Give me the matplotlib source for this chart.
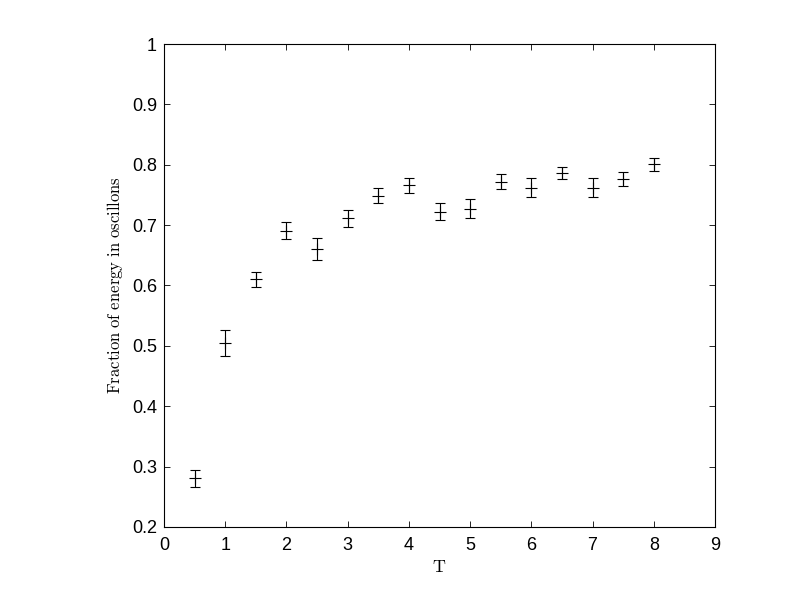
import matplotlib
matplotlib.use("Agg")
import matplotlib.pyplot as plt

# data
T = [0.5, 1.0, 1.5, 2.0, 2.5, 3.0, 3.5, 4.0, 4.5, 5.0, 5.5, 6.0, 6.5, 7.0, 7.5, 8.0]
frac = [0.281, 0.505, 0.610, 0.691, 0.660, 0.711, 0.749, 0.766,
        0.722, 0.727, 0.772, 0.762, 0.787, 0.762, 0.776, 0.801]
err = [0.014, 0.021, 0.012, 0.0135, 0.018, 0.014, 0.0124, 0.012,
       0.014, 0.016, 0.012, 0.0155, 0.010, 0.0155, 0.012, 0.011]

xticks = list(range(0, 10))
yticks = [0.2, 0.3, 0.4, 0.5, 0.6, 0.7, 0.8, 0.9, 1.0]
yticklabels = ["0.2", "0.3", "0.4", "0.5", "0.6", "0.7", "0.8", "0.9", "1"]

plt.rcParams["font.family"] = ["Liberation Sans", "DejaVu Sans"]
plt.rcParams["mathtext.fontset"] = "cm"

fig = plt.figure(figsize=(7.89, 5.93), dpi=100)
ax = fig.add_axes([0.2079, 0.1113, 0.6983, 0.8145])

ax.errorbar(T, frac, yerr=err, fmt="+", color="black", ms=8.5, mew=0.8,
            elinewidth=0.8, capsize=3.6, capthick=0.8)

ax.set_xlim(0, 9)
ax.set_ylim(0.2, 1.0)
ax.set_xticks(xticks)
ax.set_yticks(yticks)
ax.set_yticklabels(yticklabels)
ax.tick_params(direction="in", top=True, right=True, length=4, width=0.6,
               labelsize=13)
ax.tick_params(axis="x", pad=7)
ax.tick_params(axis="y", pad=5)
for s in ax.spines.values():
    s.set_linewidth(0.8)

ax.set_xlabel(r"$\mathrm{T}$", fontsize=13, labelpad=4)
ax.set_ylabel(r"$\mathrm{Fraction\ of\ energy\ in\ oscillons}$", fontsize=12, labelpad=5)

fig.savefig("out.png", dpi=100)
